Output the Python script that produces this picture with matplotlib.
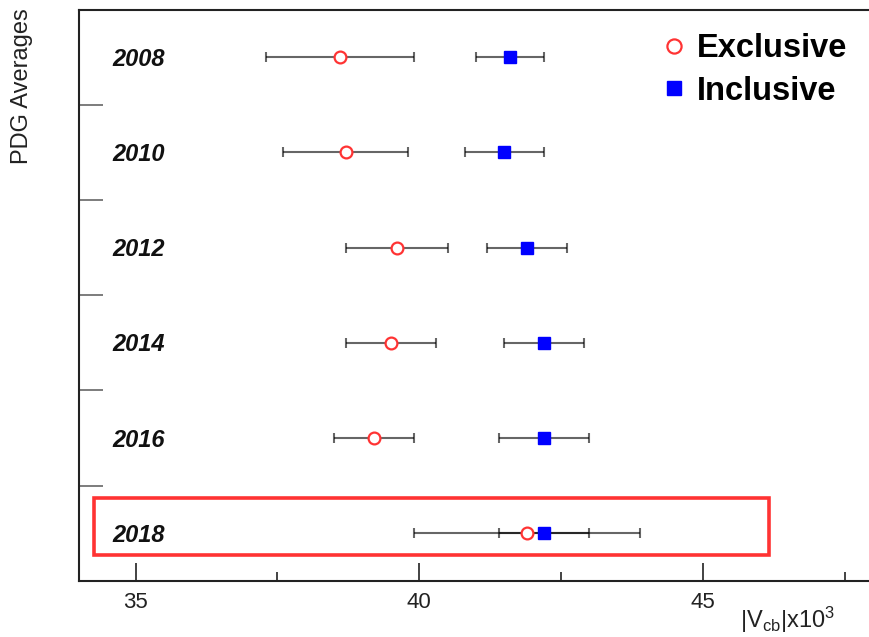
import matplotlib.pyplot as plt
from matplotlib.patches import Rectangle

plt.rcParams['font.family'] = ['Liberation Sans', 'DejaVu Sans']
plt.rcParams['mathtext.fontset'] = 'custom'
plt.rcParams['mathtext.rm'] = 'Liberation Sans'
plt.rcParams['mathtext.it'] = 'Liberation Sans'

# PDG averages of |Vcb| x 10^3
years = ['2008', '2010', '2012', '2014', '2016', '2018']
excl_val = [38.6, 38.7, 39.6, 39.5, 39.2, 41.9]
excl_err = [1.3, 1.1, 0.9, 0.8, 0.7, 2.0]
incl_val = [41.6, 41.5, 41.9, 42.2, 42.2, 42.2]
incl_err = [0.6, 0.7, 0.7, 0.7, 0.8, 0.8]

rows = list(range(len(years)))

fig = plt.figure(figsize=(8.69, 6.37), dpi=100)
ax = fig.add_axes([0.0909, 0.088, 0.9137, 0.897])

bar_kw = dict(fmt='none', ecolor='black', alpha=0.6, elinewidth=1.5,
              capsize=3.5, capthick=1.5, zorder=2)
ax.errorbar(excl_val, rows, xerr=excl_err, **bar_kw)
ax.errorbar(incl_val, rows, xerr=incl_err, **bar_kw)

ax.plot(excl_val, rows, 'o', ls='none', ms=8.5, mfc='white',
        mec='#ff3333', mew=1.6, zorder=3, label='Exclusive')
ax.plot(incl_val, rows, 's', ls='none', ms=8, color='#0000ff',
        zorder=3, label='Inclusive')

for r, yr in zip(rows, years):
    ax.text(34.58, r + 0.02, yr, fontsize=17, fontweight='bold',
            fontstyle='italic', ha='left', va='center', color='#111111')

# highlight latest average
ax.add_patch(Rectangle((34.27, 4.63), 46.16 - 34.27, 0.6, fill=False,
                       ec='#ff3333', lw=2.6, clip_on=False, zorder=4))

ax.set_xlim(34, 48)
ax.set_ylim(5.5, -0.5)

ax.set_xticks([35, 40, 45])
ax.set_xticks([37.5, 42.5, 47.5], minor=True)
ax.set_yticks([r + 0.5 for r in rows[:-1]])
ax.set_yticklabels([])
ax.tick_params(axis='x', which='major', direction='in', length=13, width=1.2,
               labelsize=16, pad=8, colors='#222222')
ax.tick_params(axis='x', which='minor', direction='in', length=6.5, width=1.2,
               colors='#222222')
ax.tick_params(axis='y', which='major', direction='in', length=17, width=1.2,
               color='#666666')

for s in ['left', 'bottom', 'top']:
    ax.spines[s].set_linewidth(1.5)
    ax.spines[s].set_color('#222222')
ax.spines['right'].set_visible(False)

fig.text(835 / 869, 1 - 620 / 637, r'$\mathrm{|V_{cb}|x10^{3}}$',
         fontsize=17, ha='right', va='center', color='#222222')
fig.text(22 / 869, 1 - 8 / 637, 'PDG Averages', rotation=90, fontsize=17,
         ha='center', va='top', color='#222222')

leg = ax.legend(loc='upper left', bbox_to_anchor=(664 / 869, 1 - 33 / 637),
                bbox_transform=fig.transFigure, frameon=False,
                prop={'size': 23.5, 'weight': 'bold'}, handlelength=0.6,
                handletextpad=0.4, labelspacing=0.36, markerscale=1.2,
                borderpad=0, borderaxespad=0)

fig.savefig('out.png', dpi=100)
